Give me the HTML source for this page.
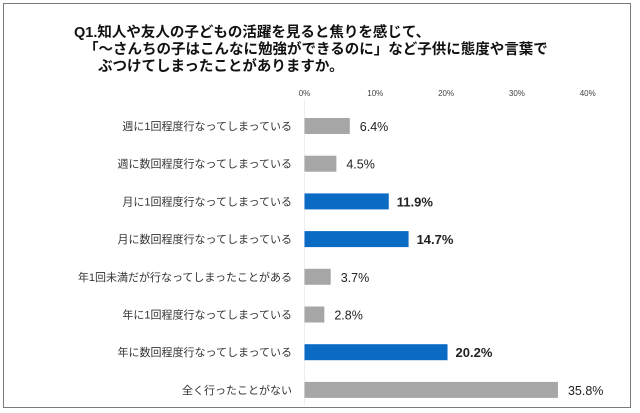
<!DOCTYPE html>
<html><head><meta charset="utf-8"><style>
body{margin:0;background:#fff;font-family:"Liberation Sans","Noto Sans CJK JP",sans-serif;}
#frame{position:absolute;left:3px;top:3px;width:628px;height:405px;border:1.5px solid #7a7a7a;box-sizing:border-box;}
.t{position:absolute;font-weight:bold;font-size:14.5px;color:#111;white-space:nowrap;}
</style></head><body>
<div id="frame"></div>
<div class="t" style="left:74px;top:21px">Q1.知人や友人の子どもの活躍を見ると焦りを感じて、</div>
<div class="t" style="left:84px;top:38px">「～さんちの子はこんなに勉強ができるのに」など子供に態度や言葉で</div>
<div class="t" style="left:98px;top:55px">ぶつけてしまったことがありますか。</div>
<svg id="c" width="640" height="413" style="position:absolute;left:0;top:0"></svg>
<script>
const categories=["週に1回程度行なってしまっている","週に数回程度行なってしまっている","月に1回程度行なってしまっている","月に数回程度行なってしまっている","年1回未満だが行なってしまったことがある","年に1回程度行なってしまっている","年に数回程度行なってしまっている","全く行ったことがない"];
const values=[6.4,4.5,11.9,14.7,3.7,2.8,20.2,35.8];
const highlight=[false,false,true,true,false,false,true,false];
const ticks=[0,10,20,30,40];
const ns="http://www.w3.org/2000/svg";
const svg=document.getElementById('c');
const x0=304.5,pxPer=7.08;
const x=v=>x0+v*pxPer;
const y=i=>126+i*37.7;
function mk(t,a){const e=document.createElementNS(ns,t);for(const k in a)e.setAttribute(k,a[k]);svg.appendChild(e);return e;}
const ax=mk('line',{x1:x0,x2:x0,y1:100,y2:405,stroke:'#eee','stroke-width':1});


ticks.forEach(t=>{const e=mk('text',{x:x(t),y:96,'font-size':8,'text-anchor':'middle',fill:'#444'});e.textContent=t+'%';

});
categories.forEach((c,i)=>{
const l=mk('text',{x:292,y:y(i)+4,'font-size':11,'text-anchor':'end',fill:'#333'});l.textContent=c;


const b=mk('rect',{x:x0,y:y(i)-8,width:x(values[i])-x0,height:16,fill:highlight[i]?'#0a6ac4':'#a6a6a6'});


const v=mk('text',{x:x(values[i])+(highlight[i]?8:10),y:y(i)+5,'font-size':highlight[i]?13:12.5,'font-weight':highlight[i]?'bold':'normal',fill:'#222'});v.textContent=values[i].toFixed(1)+'%';


});
</script>
</body></html>
